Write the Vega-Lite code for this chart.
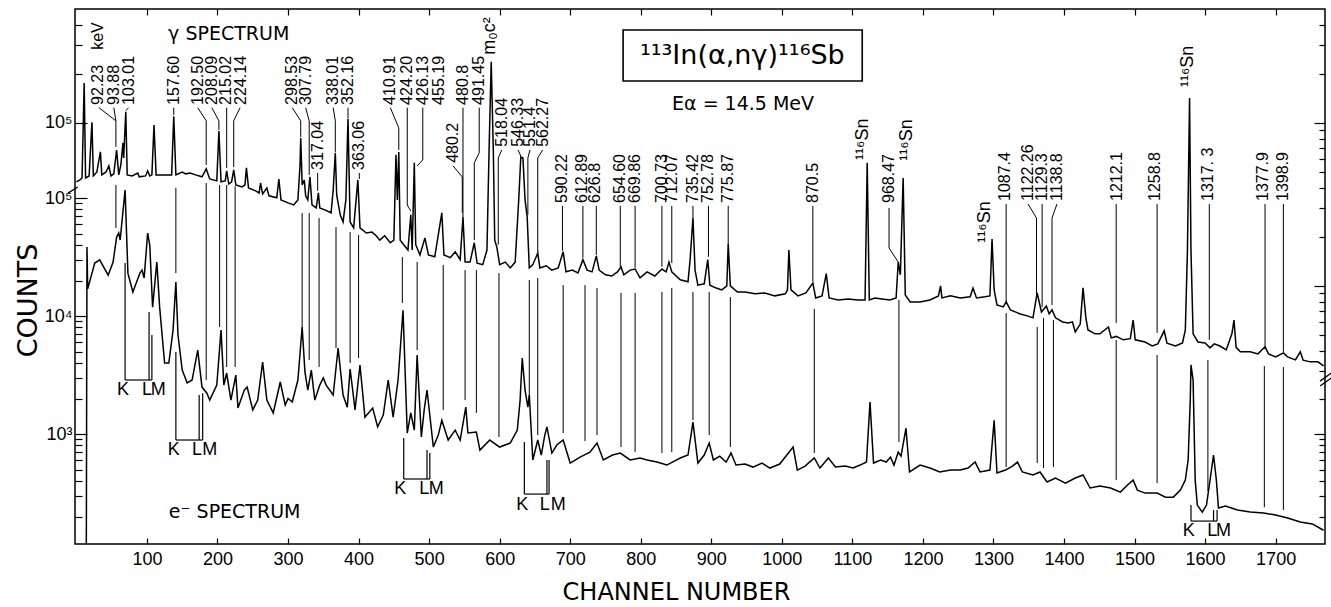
{
"$schema": "https://vega.github.io/schema/vega-lite/v6.json",
"width": 1250, "height": 535,
"autosize": {"type": "none"},
"padding": {"left": 75, "top": 9, "right": 6, "bottom": 63},
"background": "white",
"config": {
 "view": {"stroke": "black", "strokeWidth": 1.5},
 "font": "Liberation Sans",
 "axis": {"domain": false, "grid": false, "tickColor": "black", "tickWidth": 1.2, "labelColor": "black", "labelFontSize": 18, "labelFont": "Liberation Sans", "titleColor": "black", "titleFontWeight": "normal"}
},
"datasets": {
 "e": [{"c":14,"n":80},{"c":15,"n":38500},{"c":16,"n":17000},{"c":26,"n":28100},{"c":33,"n":29900},{"c":45,"n":22200},{"c":52,"n":28700},{"c":57,"n":46700},{"c":60,"n":50500},{"c":62,"n":44100},{"c":69,"n":117000},{"c":73,"n":23100},{"c":80,"n":16000},{"c":90,"n":23100},{"c":93,"n":24500},{"c":96,"n":21000},{"c":101,"n":50500},{"c":104,"n":40000},{"c":108,"n":11900},{"c":114,"n":28700},{"c":118,"n":11900},{"c":125,"n":4000},{"c":131,"n":4000},{"c":137,"n":7600},{"c":141,"n":19400},{"c":144,"n":6900},{"c":150,"n":3480},{"c":157,"n":2710},{"c":164,"n":2870},{"c":172,"n":5150},{"c":178,"n":2500},{"c":185,"n":2220},{"c":189,"n":1940},{"c":199,"n":2600},{"c":205,"n":7600},{"c":209,"n":2600},{"c":213,"n":3290},{"c":219,"n":1940},{"c":226,"n":3160},{"c":229,"n":1660},{"c":238,"n":2360},{"c":242,"n":2500},{"c":250,"n":1600},{"c":257,"n":1940},{"c":264,"n":4070},{"c":270,"n":1940},{"c":279,"n":1510},{"c":289,"n":2760},{"c":296,"n":1760},{"c":300,"n":2000},{"c":306,"n":1870},{"c":314,"n":2870},{"c":320,"n":8070},{"c":324,"n":3350},{"c":328,"n":2360},{"c":333,"n":3480},{"c":338,"n":1940},{"c":345,"n":2600},{"c":350,"n":2990},{"c":354,"n":2600},{"c":364,"n":2140},{"c":371,"n":5360},{"c":378,"n":2140},{"c":384,"n":1690},{"c":388,"n":3560},{"c":395,"n":1600},{"c":402,"n":3850},{"c":409,"n":1390},{"c":420,"n":1660},{"c":427,"n":1150},{"c":435,"n":1450},{"c":442,"n":2870},{"c":449,"n":1390},{"c":456,"n":2870},{"c":463,"n":11200},{"c":469,"n":1020},{"c":474,"n":1510},{"c":479,"n":1080},{"c":483,"n":4670},{"c":489,"n":944},{"c":493,"n":1600},{"c":497,"n":2360},{"c":506,"n":776},{"c":513,"n":980},{"c":518,"n":1310},{"c":527,"n":890},{"c":537,"n":1080},{"c":544,"n":890},{"c":552,"n":1690},{"c":555,"n":1020},{"c":567,"n":1040},{"c":572,"n":731},{"c":586,"n":890},{"c":600,"n":776},{"c":615,"n":839},{"c":625,"n":1080},{"c":629,"n":1940},{"c":632,"n":4410},{"c":636,"n":2360},{"c":640,"n":1690},{"c":642,"n":2140},{"c":647,"n":603},{"c":654,"n":890},{"c":659,"n":664},{"c":664,"n":980},{"c":667,"n":1150},{"c":674,"n":690},{"c":681,"n":807},{"c":690,"n":890},{"c":700,"n":568},{"c":714,"n":638},{"c":728,"n":703},{"c":738,"n":839},{"c":747,"n":603},{"c":760,"n":664},{"c":771,"n":690},{"c":785,"n":603},{"c":799,"n":627},{"c":809,"n":603},{"c":823,"n":579},{"c":837,"n":546},{"c":856,"n":627},{"c":867,"n":664},{"c":874,"n":1260},{"c":881,"n":568},{"c":890,"n":664},{"c":897,"n":839},{"c":903,"n":603},{"c":912,"n":650},{"c":921,"n":579},{"c":928,"n":690},{"c":935,"n":546},{"c":948,"n":557},{"c":959,"n":525},{"c":972,"n":568},{"c":983,"n":515},{"c":997,"n":557},{"c":1016,"n":776},{"c":1022,"n":495},{"c":1033,"n":535},{"c":1046,"n":627},{"c":1054,"n":515},{"c":1066,"n":627},{"c":1076,"n":525},{"c":1090,"n":535},{"c":1101,"n":515},{"c":1111,"n":546},{"c":1120,"n":579},{"c":1125,"n":1870},{"c":1130,"n":568},{"c":1140,"n":603},{"c":1148,"n":579},{"c":1154,"n":638},{"c":1159,"n":546},{"c":1165,"n":703},{"c":1169,"n":650},{"c":1176,"n":1120},{"c":1181,"n":477},{"c":1196,"n":546},{"c":1210,"n":515},{"c":1224,"n":477},{"c":1239,"n":495},{"c":1253,"n":495},{"c":1264,"n":515},{"c":1274,"n":579},{"c":1281,"n":477},{"c":1295,"n":495},{"c":1301,"n":1310},{"c":1305,"n":467},{"c":1317,"n":495},{"c":1327,"n":535},{"c":1334,"n":579},{"c":1341,"n":477},{"c":1356,"n":450},{"c":1366,"n":477},{"c":1376,"n":392},{"c":1388,"n":424},{"c":1402,"n":384},{"c":1416,"n":424},{"c":1427,"n":450},{"c":1437,"n":349},{"c":1451,"n":362},{"c":1466,"n":349},{"c":1480,"n":322},{"c":1490,"n":370},{"c":1498,"n":407},{"c":1504,"n":335},{"c":1515,"n":316},{"c":1532,"n":316},{"c":1544,"n":292},{"c":1555,"n":292},{"c":1565,"n":335},{"c":1572,"n":407},{"c":1576,"n":603},{"c":1579,"n":1940},{"c":1580,"n":3850},{"c":1583,"n":2870},{"c":1586,"n":407},{"c":1589,"n":250},{"c":1596,"n":218},{"c":1602,"n":250},{"c":1607,"n":407},{"c":1612,"n":664},{"c":1616,"n":407},{"c":1619,"n":236},{"c":1629,"n":245},{"c":1646,"n":227},{"c":1664,"n":218},{"c":1683,"n":214},{"c":1700,"n":206},{"c":1717,"n":194},{"c":1735,"n":180},{"c":1752,"n":173},{"c":1768,"n":153}],
 "g": [{"c":0,"n":43500},{"c":5,"n":44700},{"c":8,"n":46000},{"c":11,"n":176000},{"c":13,"n":46000},{"c":18,"n":47300},{"c":22,"n":101000},{"c":24,"n":47300},{"c":29,"n":50000},{"c":34,"n":66400},{"c":36,"n":48000},{"c":42,"n":50000},{"c":46,"n":54500},{"c":49,"n":47300},{"c":53,"n":48700},{"c":57,"n":68200},{"c":60,"n":48000},{"c":63,"n":55200},{"c":66,"n":75400},{"c":67,"n":61000},{"c":70,"n":117000},{"c":72,"n":48000},{"c":79,"n":47300},{"c":87,"n":49300},{"c":89,"n":46700},{"c":98,"n":47300},{"c":101,"n":50800},{"c":104,"n":47300},{"c":107,"n":48000},{"c":110,"n":97000},{"c":113,"n":48000},{"c":125,"n":48000},{"c":135,"n":48000},{"c":138,"n":110000},{"c":141,"n":48000},{"c":150,"n":50000},{"c":155,"n":48700},{"c":161,"n":49300},{"c":169,"n":48000},{"c":178,"n":46700},{"c":184,"n":52200},{"c":189,"n":45300},{"c":199,"n":44100},{"c":202,"n":89300},{"c":205,"n":43500},{"c":211,"n":44100},{"c":213,"n":50800},{"c":216,"n":42200},{"c":220,"n":43500},{"c":223,"n":51500},{"c":226,"n":41700},{"c":235,"n":40500},{"c":239,"n":41700},{"c":241,"n":53000},{"c":244,"n":39900},{"c":254,"n":38300},{"c":259,"n":37200},{"c":261,"n":42800},{"c":264,"n":36700},{"c":270,"n":39900},{"c":273,"n":35700},{"c":284,"n":34700},{"c":287,"n":45300},{"c":290,"n":33700},{"c":300,"n":32300},{"c":308,"n":31400},{"c":314,"n":33700},{"c":317,"n":55200},{"c":318,"n":80900},{"c":320,"n":41700},{"c":323,"n":44700},{"c":325,"n":35700},{"c":328,"n":33700},{"c":331,"n":46700},{"c":334,"n":31400},{"c":340,"n":30100},{"c":343,"n":37200},{"c":345,"n":30100},{"c":352,"n":29300},{"c":361,"n":28100},{"c":364,"n":38800},{"c":367,"n":65500},{"c":369,"n":36100},{"c":374,"n":27300},{"c":378,"n":24700},{"c":382,"n":33700},{"c":385,"n":106000},{"c":388,"n":24700},{"c":393,"n":22700},{"c":399,"n":44700},{"c":402,"n":22700},{"c":411,"n":21100},{"c":419,"n":21400},{"c":425,"n":20300},{"c":430,"n":19100},{"c":437,"n":20300},{"c":445,"n":18400},{"c":450,"n":19100},{"c":453,"n":63700},{"c":455,"n":33700},{"c":457,"n":66400},{"c":459,"n":19100},{"c":464,"n":17900},{"c":470,"n":16600},{"c":474,"n":27300},{"c":476,"n":16600},{"c":479,"n":56900},{"c":481,"n":17900},{"c":487,"n":15500},{"c":494,"n":19700},{"c":499,"n":15500},{"c":508,"n":15100},{"c":518,"n":28100},{"c":521,"n":15500},{"c":530,"n":14900},{"c":537,"n":16200},{"c":544,"n":14500},{"c":548,"n":26500},{"c":551,"n":14000},{"c":558,"n":14000},{"c":564,"n":18400},{"c":568,"n":13800},{"c":576,"n":13500},{"c":582,"n":16600},{"c":585,"n":68200},{"c":588,"n":237000},{"c":591,"n":68200},{"c":593,"n":19100},{"c":596,"n":17300},{"c":600,"n":13500},{"c":608,"n":14000},{"c":615,"n":12900},{"c":622,"n":14000},{"c":627,"n":33700},{"c":630,"n":61800},{"c":633,"n":61000},{"c":636,"n":33700},{"c":639,"n":26500},{"c":642,"n":12900},{"c":647,"n":13500},{"c":654,"n":15900},{"c":657,"n":12900},{"c":666,"n":13300},{"c":674,"n":12500},{"c":683,"n":12900},{"c":690,"n":16200},{"c":694,"n":12200},{"c":703,"n":12500},{"c":711,"n":12000},{"c":718,"n":14500},{"c":724,"n":12500},{"c":731,"n":12200},{"c":737,"n":15300},{"c":741,"n":12500},{"c":750,"n":11700},{"c":759,"n":11500},{"c":767,"n":12200},{"c":772,"n":13100},{"c":776,"n":11700},{"c":785,"n":12500},{"c":792,"n":12700},{"c":799,"n":11200},{"c":809,"n":12200},{"c":820,"n":11500},{"c":830,"n":12700},{"c":836,"n":12200},{"c":840,"n":14000},{"c":844,"n":12200},{"c":856,"n":10900},{"c":867,"n":10600},{"c":870,"n":14500},{"c":874,"n":26100},{"c":877,"n":12500},{"c":881,"n":10100},{"c":890,"n":10300},{"c":895,"n":14500},{"c":898,"n":10100},{"c":907,"n":9700},{"c":915,"n":9450},{"c":922,"n":10000},{"c":924,"n":18100},{"c":927,"n":10000},{"c":937,"n":9180},{"c":948,"n":9180},{"c":962,"n":8940},{"c":976,"n":9060},{"c":990,"n":8690},{"c":1005,"n":8940},{"c":1008,"n":9450},{"c":1010,"n":16600},{"c":1013,"n":9450},{"c":1023,"n":8690},{"c":1034,"n":9060},{"c":1044,"n":10400},{"c":1048,"n":8440},{"c":1057,"n":8690},{"c":1063,"n":11900},{"c":1067,"n":8440},{"c":1080,"n":8200},{"c":1094,"n":8320},{"c":1108,"n":8200},{"c":1118,"n":8200},{"c":1121,"n":56900},{"c":1124,"n":8200},{"c":1132,"n":8440},{"c":1142,"n":8320},{"c":1153,"n":8200},{"c":1162,"n":8440},{"c":1165,"n":14000},{"c":1168,"n":11700},{"c":1172,"n":46000},{"c":1175,"n":8810},{"c":1182,"n":7980},{"c":1196,"n":7980},{"c":1210,"n":8200},{"c":1222,"n":8690},{"c":1225,"n":10000},{"c":1227,"n":8440},{"c":1239,"n":8690},{"c":1253,"n":8440},{"c":1267,"n":8570},{"c":1271,"n":9700},{"c":1276,"n":8440},{"c":1288,"n":8570},{"c":1295,"n":8690},{"c":1298,"n":19400},{"c":1301,"n":9450},{"c":1305,"n":7640},{"c":1314,"n":7430},{"c":1318,"n":7980},{"c":1324,"n":7130},{"c":1338,"n":6730},{"c":1348,"n":6550},{"c":1356,"n":6370},{"c":1362,"n":9060},{"c":1368,"n":6920},{"c":1375,"n":7540},{"c":1379,"n":6730},{"c":1383,"n":7130},{"c":1388,"n":6370},{"c":1398,"n":6010},{"c":1406,"n":5920},{"c":1412,"n":6010},{"c":1416,"n":5220},{"c":1423,"n":5830},{"c":1427,"n":9720},{"c":1431,"n":6370},{"c":1434,"n":5370},{"c":1444,"n":5080},{"c":1451,"n":5080},{"c":1463,"n":5600},{"c":1467,"n":4800},{"c":1474,"n":4900},{"c":1484,"n":4670},{"c":1494,"n":4750},{"c":1498,"n":6180},{"c":1501,"n":4670},{"c":1515,"n":4530},{"c":1525,"n":4280},{"c":1533,"n":4410},{"c":1542,"n":5300},{"c":1546,"n":4450},{"c":1558,"n":4280},{"c":1568,"n":4470},{"c":1572,"n":5370},{"c":1575,"n":16600},{"c":1578,"n":142000},{"c":1580,"n":16600},{"c":1583,"n":5080},{"c":1590,"n":4530},{"c":1600,"n":4470},{"c":1607,"n":4170},{"c":1613,"n":4410},{"c":1621,"n":4280},{"c":1630,"n":4050},{"c":1638,"n":5080},{"c":1641,"n":6180},{"c":1644,"n":4200},{"c":1650,"n":3940},{"c":1664,"n":3940},{"c":1675,"n":3830},{"c":1685,"n":4230},{"c":1690,"n":3830},{"c":1700,"n":3670},{"c":1711,"n":3880},{"c":1717,"n":3670},{"c":1728,"n":3520},{"c":1735,"n":3940},{"c":1739,"n":3500},{"c":1749,"n":3420},{"c":1760,"n":3420},{"c":1768,"n":3230}],
 "up": [{"c":32,"g":124000,"c2":56,"g2":103000},{"c":56,"g":103000,"c2":56,"g2":71300},{"c":53,"g":124000,"c2":56,"g2":103000},{"c":74,"g":124000,"c2":70,"g2":119000},{"c":138,"g":124000,"c2":138,"g2":112000},{"c":172,"g":124000,"c2":184,"g2":103000},{"c":184,"g":103000,"c2":184,"g2":55200},{"c":192,"g":124000,"c2":202,"g2":103000},{"c":202,"g":103000,"c2":202,"g2":90600},{"c":213,"g":124000,"c2":213,"g2":53000},{"c":232,"g":124000,"c2":223,"g2":103000},{"c":223,"g":103000,"c2":223,"g2":53700},{"c":306,"g":124000,"c2":318,"g2":103000},{"c":318,"g":103000,"c2":318,"g2":82000},{"c":325,"g":124000,"c2":330,"g2":103000},{"c":330,"g":103000,"c2":330,"g2":48000},{"c":342,"g":49300,"c2":342,"g2":38300},{"c":364,"g":124000,"c2":367,"g2":103000},{"c":367,"g":103000,"c2":367,"g2":66400},{"c":385,"g":124000,"c2":385,"g2":107000},{"c":401,"g":49300,"c2":401,"g2":45300},{"c":445,"g":124000,"c2":457,"g2":93200},{"c":457,"g":93200,"c2":457,"g2":68300},{"c":469,"g":124000,"c2":469,"g2":31400},{"c":469,"g":31400,"c2":474,"g2":28800},{"c":491,"g":124000,"c2":491,"g2":59300},{"c":491,"g":59300,"c2":483,"g2":54500},{"c":534,"g":54500,"c2":547,"g2":46600},{"c":547,"g":46600,"c2":547,"g2":28100},{"c":548,"g":124000,"c2":548,"g2":26500},{"c":571,"g":124000,"c2":571,"g2":65500},{"c":571,"g":65500,"c2":564,"g2":56900},{"c":564,"g":56900,"c2":564,"g2":19100},{"c":603,"g":68300,"c2":598,"g2":61000},{"c":598,"g":61000,"c2":598,"g2":17900},{"c":626,"g":68300,"c2":630,"g2":62700},{"c":643,"g":68300,"c2":640,"g2":61000},{"c":640,"g":61000,"c2":640,"g2":27300},{"c":661,"g":68300,"c2":654,"g2":61000},{"c":654,"g":61000,"c2":654,"g2":16200},{"c":689,"g":31000,"c2":689,"g2":16400},{"c":718,"g":31000,"c2":718,"g2":14900},{"c":737,"g":31000,"c2":737,"g2":15500},{"c":771,"g":31000,"c2":771,"g2":13100},{"c":792,"g":31000,"c2":792,"g2":12900},{"c":830,"g":31000,"c2":830,"g2":13100},{"c":844,"g":31000,"c2":844,"g2":13800},{"c":874,"g":31000,"c2":874,"g2":26100},{"c":896,"g":31000,"c2":896,"g2":15100},{"c":924,"g":31000,"c2":924,"g2":17900},{"c":1044,"g":31000,"c2":1044,"g2":10600},{"c":1152,"g":30100,"c2":1152,"g2":17100},{"c":1152,"g":17100,"c2":1165,"g2":14000},{"c":1318,"g":31800,"c2":1318,"g2":7980},{"c":1349,"g":31800,"c2":1361,"g2":26100},{"c":1361,"g":26100,"c2":1361,"g2":8570},{"c":1369,"g":31800,"c2":1369,"g2":7430},{"c":1390,"g":31800,"c2":1383,"g2":26100},{"c":1383,"g":26100,"c2":1383,"g2":7640},{"c":1474,"g":31800,"c2":1474,"g2":5930},{"c":1532,"g":31800,"c2":1532,"g2":5150},{"c":1606,"g":31800,"c2":1606,"g2":4670},{"c":1685,"g":31800,"c2":1685,"g2":4230},{"c":1711,"g":31800,"c2":1711,"g2":3940}],
 "lo": [{"c":56,"n":129000,"n2":55700},{"c":141,"n":122000,"n2":23100},{"c":184,"n":134000,"n2":2870},{"c":203,"n":129000,"n2":8070},{"c":213,"n":129000,"n2":3700},{"c":225,"n":126000,"n2":3700},{"c":320,"n":74600,"n2":8070},{"c":330,"n":74600,"n2":4240},{"c":344,"n":67700,"n2":3700},{"c":368,"n":56800,"n2":5360},{"c":388,"n":51500,"n2":4000},{"c":400,"n":48600,"n2":4410},{"c":462,"n":31600,"n2":12900},{"c":483,"n":28700,"n2":5150},{"c":520,"n":27100,"n2":1600},{"c":551,"n":24500,"n2":1940},{"c":567,"n":24500,"n2":1510},{"c":599,"n":23100,"n2":944},{"c":642,"n":20200,"n2":1940},{"c":654,"n":21000,"n2":981},{"c":690,"n":18300,"n2":1020},{"c":721,"n":18300,"n2":873},{"c":738,"n":17300,"n2":981},{"c":772,"n":15700,"n2":776},{"c":792,"n":15700,"n2":703},{"c":830,"n":16000,"n2":690},{"c":844,"n":17300,"n2":703},{"c":874,"n":16000,"n2":1310},{"c":897,"n":16000,"n2":981},{"c":927,"n":14500,"n2":776},{"c":1046,"n":11500,"n2":690},{"c":1166,"n":13700,"n2":855},{"c":1318,"n":10600,"n2":525},{"c":1362,"n":8070,"n2":568},{"c":1371,"n":9620,"n2":515},{"c":1385,"n":9250,"n2":525},{"c":1474,"n":6260,"n2":407},{"c":1532,"n":4670,"n2":384},{"c":1604,"n":4240,"n2":329},{"c":1684,"n":3770,"n2":240},{"c":1711,"n":3700,"n2":227}],
 "kb": [{"c":69,"n":28100,"c2":69,"n2":2870},{"c":69,"n":2870,"c2":107,"n2":2870},{"c":103,"n":10800,"c2":103,"n2":2870},{"c":107,"n":6900,"c2":107,"n2":2870},{"c":141,"n":4950,"c2":141,"n2":890},{"c":141,"n":890,"c2":179,"n2":890},{"c":174,"n":2140,"c2":174,"n2":890},{"c":179,"n":2220,"c2":179,"n2":890},{"c":464,"n":925,"c2":464,"n2":416},{"c":464,"n":416,"c2":501,"n2":416},{"c":497,"n":731,"c2":497,"n2":416},{"c":501,"n":690,"c2":501,"n2":416},{"c":635,"n":855,"c2":635,"n2":310},{"c":635,"n":310,"c2":670,"n2":310},{"c":667,"n":603,"c2":667,"n2":310},{"c":670,"n":603,"c2":670,"n2":310},{"c":1580,"n":250,"c2":1580,"n2":183},{"c":1580,"n":183,"c2":1617,"n2":183},{"c":1612,"n":227,"c2":1612,"n2":183},{"c":1617,"n":227,"c2":1617,"n2":183}],
 "kt": [{"t":"K","c":66,"n":2360},{"t":"L","c":100,"n":2360},{"t":"M","c":116,"n":2360},{"t":"K","c":138,"n":731},{"t":"L","c":171,"n":731},{"t":"M","c":189,"n":731},{"t":"K","c":459,"n":342},{"t":"L","c":493,"n":342},{"t":"M","c":510,"n":342},{"t":"K","c":632,"n":250},{"t":"L","c":664,"n":250},{"t":"M","c":683,"n":250},{"t":"K","c":1577,"n":151},{"t":"L","c":1610,"n":151},{"t":"M","c":1626,"n":151}],
 "lab": [{"t":"keV","c":30,"g":281000},{"t":"92.23","c":31,"g":129000},{"t":"93.88","c":53,"g":129000},{"t":"103.01","c":74,"g":129000},{"t":"157.60","c":138,"g":129000},{"t":"192.50","c":172,"g":129000},{"t":"208.09","c":192,"g":129000},{"t":"215.02","c":212,"g":129000},{"t":"224.14","c":233,"g":129000},{"t":"298.53","c":306,"g":129000},{"t":"307.79","c":325,"g":129000},{"t":"338.01","c":364,"g":129000},{"t":"352.16","c":385,"g":129000},{"t":"410.91","c":445,"g":129000},{"t":"424.20","c":469,"g":129000},{"t":"426.13","c":491,"g":129000},{"t":"455.19","c":514,"g":129000},{"t":"480.8","c":548,"g":129000},{"t":"491.45","c":571,"g":129000},{"t":"317.04","c":342,"g":51500},{"t":"363.06","c":401,"g":51500},{"t":"480.2","c":534,"g":56900},{"t":"518.04","c":603,"g":71300},{"t":"546.33","c":626,"g":71300},{"t":"551.4","c":643,"g":71300},{"t":"562.27","c":661,"g":71300},{"t":"590.22","c":688,"g":32300},{"t":"612.89","c":717,"g":32300},{"t":"626.8","c":735,"g":32300},{"t":"654.60","c":771,"g":32300},{"t":"669.86","c":792,"g":32300},{"t":"700.73","c":830,"g":32300},{"t":"712.07","c":844,"g":32300},{"t":"735.42","c":874,"g":32300},{"t":"752.78","c":896,"g":32300},{"t":"775.87","c":924,"g":32300},{"t":"870.5","c":1044,"g":32300},{"t":"968.47","c":1152,"g":32300},{"t":"1087.4","c":1317,"g":33200},{"t":"1122.26","c":1349,"g":33200},{"t":"1129.3","c":1369,"g":33200},{"t":"1138.8","c":1390,"g":33200},{"t":"1212.1","c":1475,"g":33200},{"t":"1258.8","c":1529,"g":33200},{"t":"1317. 3","c":1604,"g":33200},{"t":"1377.9","c":1682,"g":33200},{"t":"1398.9","c":1711,"g":33200}],
 "sn": [{"t":"m₀c²","c":586,"g":262000},{"t":"¹¹⁶Sn","c":1115,"g":59300},{"t":"¹¹⁶Sn","c":1178,"g":58600},{"t":"¹¹⁶Sn","c":1288,"g":18400},{"t":"¹¹⁶Sn","c":1576,"g":166000}]
},
"resolve": {"scale": {"y": "independent"}, "axis": {"x": "independent", "y": "independent"}},
"layer": [
 {"data": {"name": "e"}, "mark": {"type": "line", "color": "black", "strokeWidth": 1.5, "clip": true},
  "encoding": {
   "x": {"field": "c", "type": "quantitative", "scale": {"domain": [-2, 1770], "nice": false, "zero": false},
     "axis": {"orient": "bottom", "values": [100,200,300,400,500,600,700,800,900,1000,1100,1200,1300,1400,1500,1600,1700], "format": "d", "tickSize": -6, "labelPadding": 12, "labelFlush": false, "title": "CHANNEL  NUMBER", "titleFont": "DejaVu Sans", "titleFontSize": 24, "titleX": 601, "titleY": 48, "titleBaseline": "middle"}},
   "y": {"field": "n", "type": "quantitative", "scale": {"type": "log", "domain": [117, 4000000], "nice": false},
     "axis": {"orient": "left", "values": [1000, 10000, 100000], "tickSize": -12, "labelPadding": 15, "labelExpr": "datum.value == 1000 ? '10³' : datum.value == 10000 ? '10⁴' : '10⁵'", "title": "COUNTS", "titleFont": "DejaVu Sans", "titleFontSize": 27, "titleX": -47, "titleY": 291, "titleBaseline": "middle", "titleAlign": "center", "titleAngle": 270}}
  }},
 {"data": {"name": "g"}, "mark": {"type": "line", "color": "black", "strokeWidth": 1.5, "clip": true},
  "encoding": {
   "x": {"field": "c", "type": "quantitative", "scale": {"domain": [-2, 1770], "nice": false, "zero": false}, "axis": null},
   "y": {"field": "n", "type": "quantitative", "scale": {"type": "log", "domain": [261, 500000], "nice": false},
     "axis": {"orient": "left", "values": [100000], "tickSize": -12, "labelPadding": 15, "labelExpr": "'10⁵'", "title": null}}
  }},
 {"data": {"name": "up"}, "mark": {"type": "rule", "color": "black", "strokeWidth": 1},
  "encoding": {
   "x": {"field": "c", "type": "quantitative", "scale": {"domain": [-2, 1770], "nice": false, "zero": false},
     "axis": {"orient": "top", "values": [100,200,300,400,500,600,700,800,900,1000,1100,1200,1300,1400,1500,1600,1700], "tickSize": -6, "labels": false, "title": null}},
   "x2": {"field": "c2"},
   "y": {"field": "g", "type": "quantitative", "scale": {"type": "log", "domain": [261, 500000], "nice": false},
     "axis": {"orient": "right", "values": [3000,4000,5000,6000,7000,8000,9000,20000,30000,40000,50000,60000,70000,80000,90000,200000,300000,400000], "tickSize": -6, "labels": false, "title": null}},
   "y2": {"field": "g2"}
  }},
 {"data": {"name": "lo"}, "mark": {"type": "rule", "color": "black", "strokeWidth": 1},
  "encoding": {
   "x": {"field": "c", "type": "quantitative", "scale": {"domain": [-2, 1770], "nice": false, "zero": false}, "axis": null},
   "y": {"field": "n", "type": "quantitative", "scale": {"type": "log", "domain": [117, 4000000], "nice": false},
     "axis": {"orient": "right", "values": [200,300,400,500,600,700,800,900,2000], "tickSize": -6, "labels": false, "title": null}},
   "y2": {"field": "n2"}
  }},
 {"data": {"name": "kb"}, "mark": {"type": "rule", "color": "black", "strokeWidth": 1.2},
  "encoding": {
   "x": {"field": "c", "type": "quantitative", "scale": {"domain": [-2, 1770], "nice": false, "zero": false}, "axis": null},
   "x2": {"field": "c2"},
   "y": {"field": "n", "type": "quantitative", "scale": {"type": "log", "domain": [117, 4000000], "nice": false},
     "axis": {"orient": "left", "values": [200,300,400,500,600,700,800,900,2000,3000,4000,5000,6000,7000,8000,9000,20000,30000,40000,50000,60000,70000,80000,90000], "tickSize": -7, "labels": false, "title": null}},
   "y2": {"field": "n2"}
  }},
 {"data": {"name": "kt"}, "mark": {"type": "text", "color": "black", "fontSize": 18, "align": "center", "baseline": "middle"},
  "encoding": {
   "x": {"field": "c", "type": "quantitative", "scale": {"domain": [-2, 1770], "nice": false, "zero": false}, "axis": null},
   "y": {"field": "n", "type": "quantitative", "scale": {"type": "log", "domain": [117, 4000000], "nice": false},
     "axis": {"orient": "right", "values": [1000], "tickSize": -11, "labels": false, "title": null}},
   "text": {"field": "t"}
  }},
 {"data": {"name": "lab"}, "mark": {"type": "text", "color": "black", "fontSize": 16, "angle": 270, "align": "left", "baseline": "middle"},
  "encoding": {
   "x": {"field": "c", "type": "quantitative", "scale": {"domain": [-2, 1770], "nice": false, "zero": false}, "axis": null},
   "y": {"field": "g", "type": "quantitative", "scale": {"type": "log", "domain": [261, 500000], "nice": false},
     "axis": {"orient": "left", "values": [200000, 300000, 400000], "tickSize": -7, "labels": false, "title": null}},
   "text": {"field": "t"}
  }},
 {"data": {"name": "sn"}, "mark": {"type": "text", "color": "black", "fontSize": 18, "angle": 270, "align": "left", "baseline": "middle"},
  "encoding": {
   "x": {"field": "c", "type": "quantitative", "scale": {"domain": [-2, 1770], "nice": false, "zero": false}, "axis": null},
   "y": {"field": "g", "type": "quantitative", "scale": {"type": "log", "domain": [261, 500000], "nice": false},
     "axis": {"orient": "right", "values": [10000, 100000], "tickSize": -11, "labels": false, "title": null}},
   "text": {"field": "t"}
  }},
 {"data": {"values": [{"c1": 775, "c2": 1114, "g1": 372000, "g2": 181000}]}, "mark": {"type": "rect", "fill": null, "fillOpacity": 0, "stroke": "black", "strokeWidth": 1.6},
  "encoding": {
   "x": {"field": "c1", "type": "quantitative", "scale": {"domain": [-2, 1770], "nice": false, "zero": false}, "axis": null},
   "x2": {"field": "c2"},
   "y": {"field": "g1", "type": "quantitative", "scale": {"type": "log", "domain": [261, 500000], "nice": false}, "axis": null},
   "y2": {"field": "g2"}
  }},
 {"data": {"values": [{"t": "¹¹³In(α,nγ)¹¹⁶Sb", "c": 944, "g": 258000}]}, "mark": {"type": "text", "color": "black", "fontSize": 27, "font": "DejaVu Sans", "align": "center", "baseline": "middle"},
  "encoding": {
   "x": {"field": "c", "type": "quantitative", "scale": {"domain": [-2, 1770], "nice": false, "zero": false}, "axis": null},
   "y": {"field": "g", "type": "quantitative", "scale": {"type": "log", "domain": [261, 500000], "nice": false}, "axis": null},
   "text": {"field": "t"}
  }},
 {"data": {"values": [{"t": "Eα = 14.5  MeV", "c": 945, "g": 131000}]}, "mark": {"type": "text", "color": "black", "fontSize": 19, "font": "DejaVu Sans", "align": "center", "baseline": "middle"},
  "encoding": {
   "x": {"field": "c", "type": "quantitative", "scale": {"domain": [-2, 1770], "nice": false, "zero": false}, "axis": null},
   "y": {"field": "g", "type": "quantitative", "scale": {"type": "log", "domain": [261, 500000], "nice": false}, "axis": null},
   "text": {"field": "t"}
  }},
 {"data": {"values": [{"t": "γ  SPECTRUM", "c": 130, "g": 352000}]}, "mark": {"type": "text", "color": "black", "fontSize": 19, "font": "DejaVu Sans", "align": "left", "baseline": "middle"},
  "encoding": {
   "x": {"field": "c", "type": "quantitative", "scale": {"domain": [-2, 1770], "nice": false, "zero": false}, "axis": null},
   "y": {"field": "g", "type": "quantitative", "scale": {"type": "log", "domain": [261, 500000], "nice": false}, "axis": null},
   "text": {"field": "t"}
  }},
 {"data": {"values": [{"t": "e⁻ SPECTRUM", "c": 131, "n": 218}]}, "mark": {"type": "text", "color": "black", "fontSize": 19, "font": "DejaVu Sans", "align": "left", "baseline": "middle"},
  "encoding": {
   "x": {"field": "c", "type": "quantitative", "scale": {"domain": [-2, 1770], "nice": false, "zero": false}, "axis": null},
   "y": {"field": "n", "type": "quantitative", "scale": {"type": "log", "domain": [117, 4000000], "nice": false}, "axis": null},
   "text": {"field": "t"}
  }},
 {"data": {"values": [{"c": -12, "n": 110000, "c2": 2, "n2": 124000}, {"c": 1763, "n": 2810, "c2": 1779, "n2": 3290}, {"c": 1763, "n": 2550, "c2": 1779, "n2": 2990}]}, "mark": {"type": "rule", "color": "black", "strokeWidth": 1.3},
  "encoding": {
   "x": {"field": "c", "type": "quantitative", "scale": {"domain": [-2, 1770], "nice": false, "zero": false}, "axis": null},
   "x2": {"field": "c2"},
   "y": {"field": "n", "type": "quantitative", "scale": {"type": "log", "domain": [117, 4000000], "nice": false}, "axis": null},
   "y2": {"field": "n2"}
  }}
]
}
